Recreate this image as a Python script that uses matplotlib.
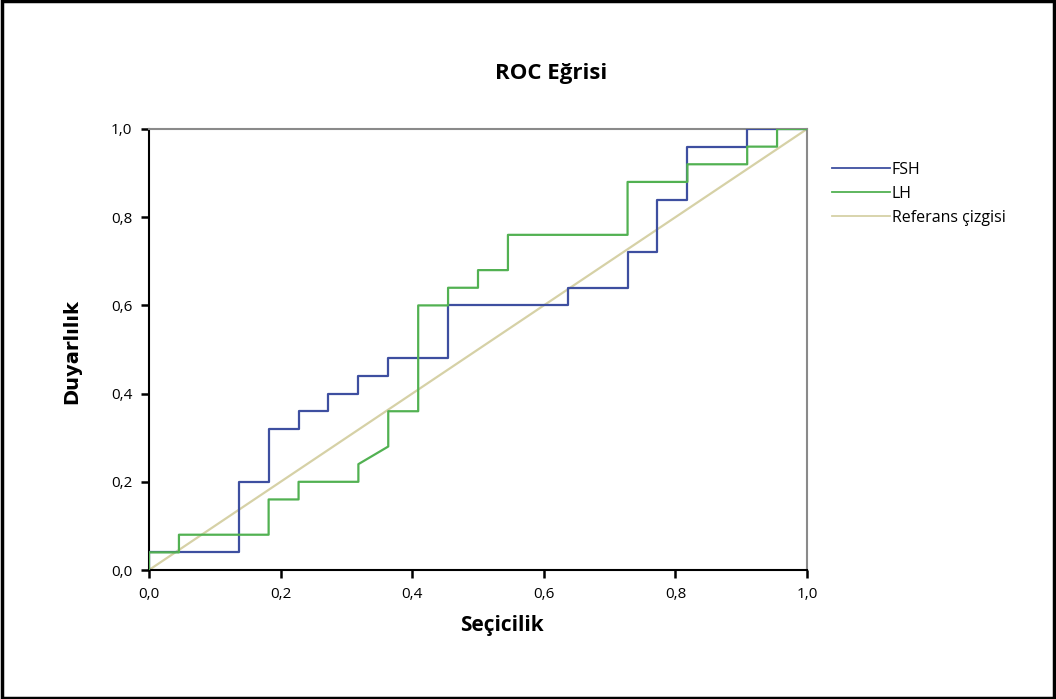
import matplotlib
matplotlib.use("Agg")
import matplotlib.pyplot as plt
from matplotlib.patches import Rectangle

# ROC points (1 - specificity, sensitivity)
fsh_fpr = [0.0, 0.0, 0.1364, 0.1364, 0.1818, 0.1818, 0.2273, 0.2273, 0.2727, 0.2727,
           0.3182, 0.3182, 0.3636, 0.3636, 0.4545, 0.4545, 0.6364, 0.6364, 0.7273, 0.7273,
           0.7727, 0.7727, 0.8182, 0.8182, 0.9091, 0.9091, 1.0]
fsh_tpr = [0.0, 0.04, 0.04, 0.20, 0.20, 0.32, 0.32, 0.36, 0.36, 0.40,
           0.40, 0.44, 0.44, 0.48, 0.48, 0.60, 0.60, 0.64, 0.64, 0.72,
           0.72, 0.84, 0.84, 0.96, 0.96, 1.0, 1.0]

lh_fpr = [0.0, 0.0, 0.0455, 0.0455, 0.1818, 0.1818, 0.2273, 0.2273, 0.3182, 0.3182,
          0.3636, 0.3636, 0.4091, 0.4091, 0.4545, 0.4545, 0.5, 0.5, 0.5455, 0.5455,
          0.7273, 0.7273, 0.8182, 0.8182, 0.9091, 0.9091, 0.9545, 0.9545, 1.0]
lh_tpr = [0.0, 0.04, 0.04, 0.08, 0.08, 0.16, 0.16, 0.20, 0.20, 0.24,
          0.28, 0.36, 0.36, 0.60, 0.60, 0.64, 0.64, 0.68, 0.68, 0.76,
          0.76, 0.88, 0.88, 0.92, 0.92, 0.96, 0.96, 1.0, 1.0]

ref_x = [0.0, 1.0]
ref_y = [0.0, 1.0]

ticks = [0.0, 0.2, 0.4, 0.6, 0.8, 1.0]
tick_labels = ["0,0", "0,2", "0,4", "0,6", "0,8", "1,0"]

plt.rcParams['font.family'] = ['Open Sans', 'DejaVu Sans']

W, H = 1056, 699
fig = plt.figure(figsize=(W / 100, H / 100), dpi=100)
ax = fig.add_axes([149 / W, 1 - 570 / H, 658 / W, 441 / H])

ax.plot(ref_x, ref_y, color='#d6d1a6', lw=1.6, label='Referans çizgisi', zorder=2)
ax.plot(fsh_fpr, fsh_tpr, color='#3e4fa0', lw=1.6, label='FSH', zorder=3)
ax.plot(lh_fpr, lh_tpr, color='#52b152', lw=1.6, label='LH', zorder=4)

ax.set_xlim(0, 1)
ax.set_ylim(0, 1)
ax.set_xticks(ticks)
ax.set_xticklabels(tick_labels)
ax.set_yticks(ticks)
ax.set_yticklabels(tick_labels)
ax.tick_params(direction='out', length=6, width=1.8, labelsize=11, pad=6)

for s in ['left', 'bottom']:
    ax.spines[s].set_color('black')
    ax.spines[s].set_linewidth(1.5)
for s in ['top', 'right']:
    ax.spines[s].set_color('#8a8a8a')
    ax.spines[s].set_linewidth(1.5)

handles, labels = ax.get_legend_handles_labels()
order = [1, 2, 0]
leg = fig.legend([handles[i] for i in order], [labels[i] for i in order],
                 loc='upper left', bbox_to_anchor=(832 / W, 1 - 162 / H),
                 frameon=False, fontsize=11.5, handlelength=3.6, handletextpad=0.15,
                 labelspacing=0.5, borderaxespad=0, borderpad=0)
for line in leg.get_lines():
    line.set_linewidth(1.3)

fig.text(551 / W, 1 - 73 / H, 'ROC Eğrisi', ha='center', va='center',
         fontsize=16, fontweight='bold')
fig.text(502 / W, 1 - 626 / H, 'Seçicilik', ha='center', va='center',
         fontsize=15, fontweight='bold')
fig.text(72 / W, 1 - 352 / H, 'Duyarlılık', ha='center', va='center',
         rotation=90, fontsize=14, fontweight='bold',
         family=['Liberation Sans Narrow', 'DejaVu Sans'])

# outer frame around the whole picture
fig.add_artist(Rectangle((0.0015, 0.002), 0.997, 0.996, transform=fig.transFigure,
                         fill=False, edgecolor='black', lw=2.5))

fig.savefig('out.png', dpi=100)
